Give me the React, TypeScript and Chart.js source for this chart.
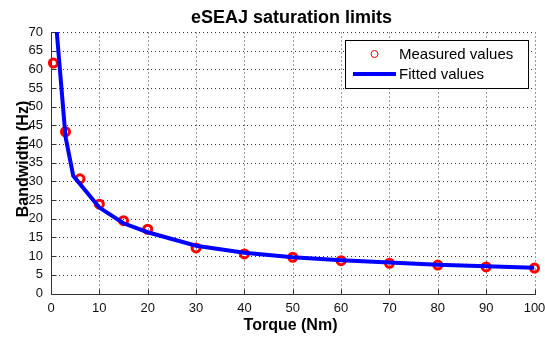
import React, { useEffect, useRef } from "react";
import { Chart, registerables } from "chart.js";

Chart.register(...registerables);

const measuredTorque = [0.5, 3, 6, 10, 15, 20, 30, 40, 50, 60, 70, 80, 90, 100];
const measuredBandwidth = [61.7, 43.3, 30.7, 23.9, 19.5, 17.2, 12.2, 10.6, 9.7, 8.8, 8.1, 7.6, 7.1, 6.8];

const fittedTorque = [1, 3, 4.6, 10, 15, 20, 30, 40, 50, 60, 70, 80, 90, 100];
const fittedBandwidth = [73, 42, 31.5, 23, 18.8, 16.4, 12.8, 10.9, 9.7, 8.9, 8.3, 7.7, 7.3, 6.9];

const xTicks = [0, 10, 20, 30, 40, 50, 60, 70, 80, 90, 100];
const yTicks = [0, 5, 10, 15, 20, 25, 30, 35, 40, 45, 50, 55, 60, 65, 70];

const titleText = "eSEAJ saturation limits";
const xTitle = "Torque (Nm)";
const yTitle = "Bandwidth (Hz)";
const legendLabels = ["Measured values", "Fitted values"];

const TICK_FONT = "'Liberation Sans Narrow', 'Liberation Sans', Arial, sans-serif";
const SANS = "'Liberation Sans', Arial, Helvetica, sans-serif";

const decor = {
  id: "matlabDecor",
  beforeDatasetsDraw(chart: any) {
    const { ctx, chartArea: a, scales } = chart;
    const xs = scales.x;
    const ys = scales.y;
    ctx.save();
    // dotted grid
    ctx.strokeStyle = "rgba(0,0,0,0.8)";
    ctx.lineWidth = 1;
    ctx.setLineDash([1, 3]);
    xTicks.forEach((v) => {
      if (v === xTicks[0]) return;
      const px = Math.round(xs.getPixelForValue(v)) + 0.5;
      ctx.beginPath();
      ctx.moveTo(px, a.bottom);
      ctx.lineTo(px, a.top);
      ctx.stroke();
    });
    yTicks.forEach((v) => {
      if (v === yTicks[0]) return;
      const py = Math.round(ys.getPixelForValue(v)) + 0.5;
      ctx.beginPath();
      ctx.moveTo(a.left, py);
      ctx.lineTo(a.right, py);
      ctx.stroke();
    });
    ctx.setLineDash([]);
    // axes lines
    ctx.strokeStyle = "#333";
    const left = Math.round(a.left) + 0.5;
    const bottom = Math.round(a.bottom) + 0.5;
    ctx.beginPath();
    ctx.moveTo(left, Math.round(a.top));
    ctx.lineTo(left, bottom);
    ctx.lineTo(Math.round(a.right) + 1, bottom);
    ctx.stroke();
    // inner ticks
    xTicks.forEach((v) => {
      const px = Math.round(xs.getPixelForValue(v)) + 0.5;
      ctx.beginPath();
      ctx.moveTo(px, bottom);
      ctx.lineTo(px, bottom - 5);
      ctx.stroke();
    });
    yTicks.forEach((v) => {
      const py = Math.round(ys.getPixelForValue(v)) + 0.5;
      ctx.beginPath();
      ctx.moveTo(left, py);
      ctx.lineTo(left + 5, py);
      ctx.stroke();
    });
    ctx.restore();
  },
  afterDraw(chart: any) {
    const { ctx } = chart;
    ctx.save();
    ctx.fillStyle = "#000";
    // title
    ctx.font = "bold 18px " + SANS;
    ctx.textAlign = "center";
    ctx.textBaseline = "alphabetic";
    ctx.fillText(titleText, 291.5, 22.5);
    // x title
    ctx.font = "bold 16px " + SANS;
    ctx.fillText(xTitle, 290.5, 329.5);
    // y title
    ctx.save();
    ctx.translate(28, 159);
    ctx.rotate(-Math.PI / 2);
    ctx.fillText(yTitle, 0, 0);
    ctx.restore();
    // legend
    const bx = 345.5, by = 40.5, bw = 183, bh = 48;
    ctx.fillStyle = "#fff";
    ctx.fillRect(bx, by, bw, bh);
    ctx.strokeStyle = "#000";
    ctx.lineWidth = 1;
    ctx.strokeRect(bx, by, bw, bh);
    ctx.strokeStyle = "#ff0000";
    ctx.beginPath();
    ctx.arc(374.5, 54, 3.5, 0, Math.PI * 2);
    ctx.stroke();
    ctx.strokeStyle = "#0000ff";
    ctx.lineWidth = 4;
    ctx.beginPath();
    ctx.moveTo(353, 74);
    ctx.lineTo(396, 74);
    ctx.stroke();
    ctx.fillStyle = "#000";
    ctx.font = "15px " + SANS;
    ctx.textAlign = "left";
    ctx.textBaseline = "middle";
    ctx.fillText(legendLabels[0], 399, 54.5);
    ctx.fillText(legendLabels[1], 399, 74.5);
    ctx.restore();
  },
};

export default function App() {
  const ref = useRef<HTMLCanvasElement | null>(null);
  useEffect(() => {
    if (!ref.current) return;
    const chart = new Chart(ref.current, {
      type: "scatter",
      data: {
        datasets: [
          {
            type: "line",
            label: legendLabels[1],
            data: fittedTorque.map((x, i) => ({ x, y: fittedBandwidth[i] })),
            borderColor: "#0000ff",
            borderWidth: 4,
            pointRadius: 0,
            fill: false,
            tension: 0,
            clip: 0,
          } as any,
          {
            type: "scatter",
            label: legendLabels[0],
            data: measuredTorque.map((x, i) => ({ x, y: measuredBandwidth[i] })),
            borderColor: "#ff0000",
            backgroundColor: "rgba(0,0,0,0)",
            pointRadius: 4,
            borderWidth: 3,
            clip: false,
          } as any,
        ],
      },
      options: {
        animation: false,
        responsive: false,
        devicePixelRatio: 1,
        layout: { padding: { left: 0, top: 32, right: 10.5, bottom: 0 } },
        plugins: {
          legend: { display: false },
          title: { display: false },
          tooltip: { enabled: false },
        },
        scales: {
          x: {
            type: "linear",
            min: 0,
            max: 100,
            afterBuildTicks: (s: any) => {
              s.ticks = xTicks.map((v) => ({ value: v }));
            },
            afterFit: (s: any) => {
              s.height = 43.5;
              s.paddingLeft = 0;
              s.paddingRight = 0;
            },
            grid: { display: false, drawTicks: false },
            border: { display: false },
            ticks: {
              color: "#111",
              font: { family: TICK_FONT, size: 13 },
              padding: 7,
              maxRotation: 0,
              autoSkip: false,
            },
          },
          y: {
            type: "linear",
            min: 0,
            max: 70,
            afterBuildTicks: (s: any) => {
              s.ticks = yTicks.map((v) => ({ value: v }));
            },
            afterFit: (s: any) => {
              s.width = 51;
              s.paddingTop = 0;
              s.paddingBottom = 0;
            },
            grid: { display: false, drawTicks: false },
            border: { display: false },
            ticks: {
              color: "#111",
              font: { family: TICK_FONT, size: 13 },
              padding: 8,
              autoSkip: false,
            },
          },
        },
      },
      plugins: [decor],
    });
    return () => chart.destroy();
  }, []);
  return (
    <div style={{ position: "fixed", left: 0, top: 0, width: 545, height: 337, background: "#fff" }}>
      <canvas ref={ref} width={545} height={337} style={{ width: 545, height: 337, display: "block" }} />
    </div>
  );
}
